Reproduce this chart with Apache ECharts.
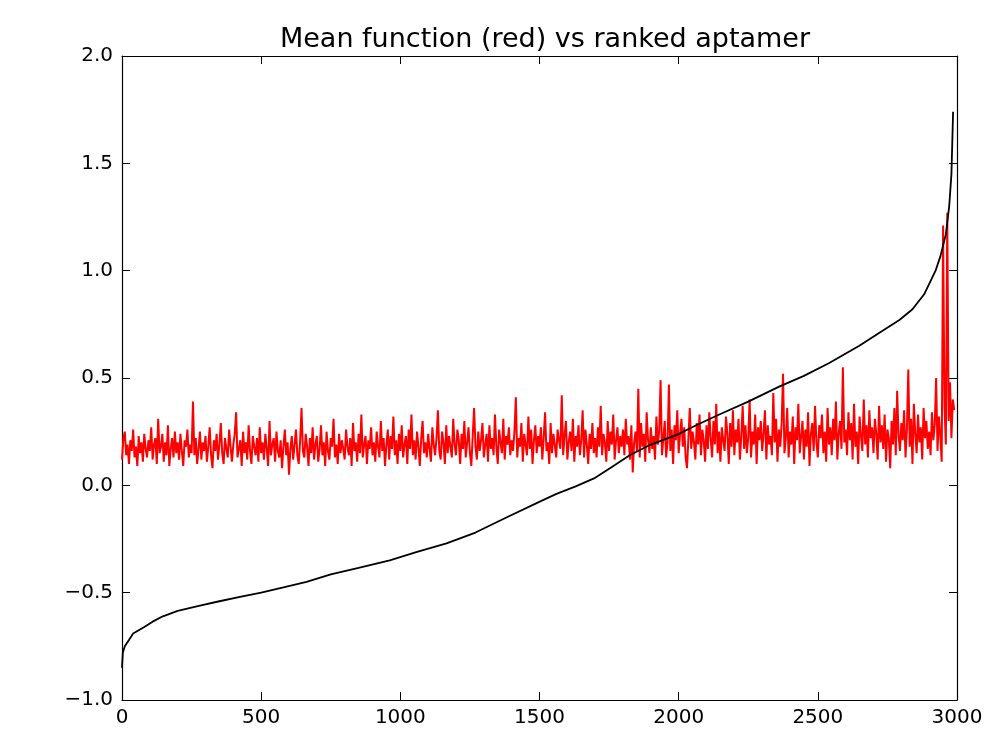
<!DOCTYPE html>
<html>
<head>
<meta charset="utf-8">
<script src="https://cdn.jsdelivr.net/npm/echarts@6/dist/echarts.min.js"></script>
<style>
html,body{margin:0;padding:0;background:#fff;}
#chart{width:998px;height:729px;}
</style>
</head>
<body>
<div id="chart"></div>
<script>
const titleText = "Mean function (red) vs ranked aptamer";
const xTicks = [0, 500, 1000, 1500, 2000, 2500, 3000];
const yTicks = [-1.0, -0.5, 0.0, 0.5, 1.0, 1.5, 2.0];

// ranked aptamer (black)
const blackX = [0, 3, 10, 25, 40, 60, 80, 110, 147, 200, 280, 350, 424, 500, 580, 663, 750, 850, 962, 1060, 1166, 1270, 1381, 1501, 1561, 1630, 1700, 1760, 1824, 1900, 2002, 2063, 2146, 2250, 2361, 2450, 2541, 2649, 2720, 2793, 2840, 2882, 2923, 2941, 2960, 2972, 2980, 2986];
const blackY = [-0.85, -0.78, -0.75, -0.72, -0.69, -0.675, -0.66, -0.635, -0.61, -0.585, -0.56, -0.54, -0.52, -0.50, -0.475, -0.45, -0.415, -0.385, -0.35, -0.31, -0.27, -0.22, -0.15, -0.076, -0.04, -0.005, 0.035, 0.085, 0.14, 0.19, 0.24, 0.28, 0.33, 0.39, 0.46, 0.51, 0.57, 0.65, 0.71, 0.77, 0.82, 0.89, 1.00, 1.07, 1.17, 1.30, 1.45, 1.74];

// mean function (red), one value every 5 ranks
const redStart = 0;
const redStep = 5;
const redY = [
  0.12,0.22,0.25,0.14,0.19,0.10,0.21,0.16,0.26,0.13,0.18,0.09,0.23,0.15,0.20,0.11,0.24,0.17,0.13,0.21,
  0.16,0.27,0.12,0.19,0.22,0.10,0.31,0.15,0.18,0.24,0.11,0.20,0.14,0.28,0.09,0.17,0.22,0.13,0.25,0.15,
  0.20,0.12,0.24,0.16,0.09,0.21,0.18,0.26,0.13,0.19,0.15,0.39,0.14,0.22,0.10,0.17,0.25,0.12,0.20,0.16,
  0.23,0.11,0.18,0.27,0.14,0.08,0.21,0.16,0.24,0.12,0.19,0.29,0.15,0.10,0.22,0.17,0.13,0.26,0.18,0.11,
  0.19,0.24,0.34,0.13,0.17,0.21,0.09,0.25,0.15,0.20,0.12,0.28,0.16,0.10,0.23,0.18,0.14,0.22,0.11,0.27,
  0.15,0.20,0.12,0.24,0.17,0.09,0.30,0.14,0.19,0.22,0.11,0.25,0.16,0.13,0.21,0.08,0.18,0.26,0.14,0.20,
  0.05,0.17,0.23,0.12,0.19,0.26,0.14,0.10,0.21,0.36,0.16,0.13,0.24,0.18,0.09,0.22,0.15,0.27,0.12,0.19,
  0.23,0.11,0.17,0.28,0.14,0.20,0.09,0.25,0.16,0.12,0.22,0.18,0.31,0.13,0.19,0.10,0.24,0.15,0.21,0.17,
  0.12,0.26,0.18,0.14,0.22,0.09,0.29,0.16,0.20,0.11,0.24,0.15,0.33,0.13,0.19,0.23,0.10,0.21,0.17,0.27,
  0.14,0.20,0.11,0.25,0.18,0.13,0.30,0.16,0.22,0.09,0.19,0.26,0.12,0.23,0.17,0.32,0.14,0.21,0.10,0.24,
  0.16,0.28,0.13,0.19,0.23,0.10,0.26,0.17,0.33,0.14,0.21,0.12,0.25,0.18,0.09,0.22,0.30,0.15,0.20,0.13,
  0.24,0.17,0.11,0.27,0.19,0.14,0.22,0.35,0.16,0.12,0.25,0.20,0.10,0.28,0.15,0.23,0.18,0.13,0.31,0.19,
  0.14,0.26,0.21,0.10,0.24,0.17,0.30,0.13,0.20,0.27,0.15,0.09,0.23,0.36,0.18,0.12,0.25,0.16,0.21,0.29,
  0.13,0.19,0.24,0.11,0.28,0.17,0.22,0.14,0.33,0.18,0.10,0.26,0.20,0.15,0.31,0.12,0.23,0.19,0.27,0.14,
  0.21,0.16,0.25,0.41,0.13,0.22,0.18,0.29,0.11,0.24,0.19,0.14,0.32,0.17,0.26,0.10,0.21,0.28,0.15,0.23,
  0.18,0.27,0.12,0.22,0.34,0.16,0.20,0.10,0.29,0.15,0.24,0.19,0.13,0.26,0.21,0.17,0.42,0.14,0.23,0.30,
  0.12,0.20,0.25,0.16,0.31,0.11,0.23,0.18,0.28,0.14,0.21,0.35,0.13,0.26,0.19,0.10,0.24,0.17,0.29,0.15,
  0.22,0.13,0.27,0.18,0.37,0.14,0.24,0.20,0.11,0.30,0.16,0.25,0.19,0.33,0.12,0.21,0.27,0.15,0.23,0.18,
  0.26,0.14,0.31,0.19,0.23,0.12,0.28,0.06,0.20,0.25,0.16,0.45,0.13,0.29,0.18,0.24,0.11,0.34,0.21,0.15,
  0.27,0.17,0.23,0.12,0.32,0.19,0.25,0.49,0.14,0.22,0.30,0.13,0.20,0.47,0.16,0.26,0.10,0.28,0.21,0.35,
  0.15,0.24,0.31,0.18,0.27,0.13,0.08,0.22,0.36,0.17,0.25,0.20,0.12,0.29,0.19,0.33,0.14,0.26,0.21,0.11,
  0.28,0.17,0.34,0.22,0.13,0.30,0.19,0.38,0.15,0.25,0.11,0.27,0.21,0.16,0.32,0.24,0.10,0.29,0.18,0.35,
  0.14,0.26,0.20,0.31,0.12,0.23,0.37,0.17,0.28,0.15,0.22,0.40,0.13,0.25,0.19,0.33,0.10,0.27,0.21,0.30,
  0.16,0.24,0.35,0.12,0.28,0.19,0.23,0.14,0.43,0.20,0.31,0.11,0.26,0.18,0.29,0.52,0.15,0.22,0.36,0.13,
  0.25,0.19,0.32,0.10,0.27,0.21,0.38,0.15,0.23,0.30,0.12,0.26,0.18,0.34,0.09,0.24,0.29,0.16,0.37,0.20,
  0.13,0.28,0.22,0.33,0.15,0.25,0.11,0.36,0.19,0.27,0.14,0.31,0.21,0.39,0.12,0.24,0.30,0.17,0.55,0.20,
  0.26,0.14,0.34,0.21,0.29,0.12,0.38,0.18,0.25,0.10,0.32,0.23,0.16,0.40,0.19,0.28,0.13,0.35,0.22,0.27,
  0.15,0.31,0.24,0.12,0.37,0.20,0.28,0.17,0.33,0.11,0.26,0.22,0.08,0.30,0.19,0.36,0.14,0.44,0.23,0.16,
  0.29,0.21,0.35,0.13,0.26,0.54,0.18,0.31,0.10,0.38,0.24,0.15,0.33,0.20,0.27,0.12,0.36,0.22,0.30,0.17,
  0.25,0.14,0.34,0.21,0.28,0.50,0.16,0.32,0.23,0.11,1.21,0.37,0.19,1.27,0.30,0.48,0.22,0.40,0.35
];

const redData = redY.map((v, i) => [redStart + i * redStep, v]);
const blackData = blackX.map((x, i) => [x, blackY[i]]);

const FONT = "DejaVu Sans";
const fmtY = v => (Math.abs(v) < 1e-9 ? "0.0" : v.toFixed(1)).replace("-", "\u2212");
const fmtX = v => String(Math.round(v));

const chart = echarts.init(document.getElementById("chart"), null, {renderer: "canvas"});
const axisLineStyle = {color: "#000", width: 1.2};
chart.setOption({
  animation: false,
  backgroundColor: "#fff",
  title: {
    text: titleText,
    left: 540, top: 21, textAlign: "center",
    textStyle: {fontFamily: FONT, fontSize: 27, fontWeight: "normal", color: "#000"}
  },
  grid: {left: 122, right: 41, top: 56, bottom: 29, containLabel: false},
  xAxis: [{
    type: "value", min: 0, max: 3000, interval: 500, position: "bottom",
    axisLine: {show: true, onZero: false, lineStyle: axisLineStyle},
    axisTick: {show: true, inside: true, length: 8, lineStyle: {color: "#000", width: 1}},
    axisLabel: {fontFamily: FONT, fontSize: 20, color: "#000", margin: 8, formatter: fmtX},
    splitLine: {show: false}
  }, {
    type: "value", min: 0, max: 3000, interval: 500, position: "top",
    axisLine: {show: true, onZero: false, lineStyle: axisLineStyle},
    axisTick: {show: true, inside: true, length: 8, lineStyle: {color: "#000", width: 1}},
    axisLabel: {show: false}, splitLine: {show: false}
  }],
  yAxis: [{
    type: "value", min: -1, max: 2, interval: 0.5, position: "left",
    axisLine: {show: true, onZero: false, lineStyle: axisLineStyle},
    axisTick: {show: true, inside: true, length: 8, lineStyle: {color: "#000", width: 1}},
    axisLabel: {fontFamily: FONT, fontSize: 20, color: "#000", margin: 9, formatter: fmtY},
    splitLine: {show: false}
  }, {
    type: "value", min: -1, max: 2, interval: 0.5, position: "right",
    axisLine: {show: true, onZero: false, lineStyle: axisLineStyle},
    axisTick: {show: true, inside: true, length: 8, lineStyle: {color: "#000", width: 1}},
    axisLabel: {show: false}, splitLine: {show: false}
  }],
  series: [{
    type: "line", name: "mean", data: redData, xAxisIndex: 0, yAxisIndex: 0,
    showSymbol: false, symbol: "none",
    lineStyle: {color: "#ff0000", width: 2}, z: 2
  }, {
    type: "line", name: "ranked", data: blackData, xAxisIndex: 0, yAxisIndex: 0,
    showSymbol: false, symbol: "none",
    lineStyle: {color: "#000000", width: 1.8}, z: 3
  }]
});
</script>
</body>
</html>
